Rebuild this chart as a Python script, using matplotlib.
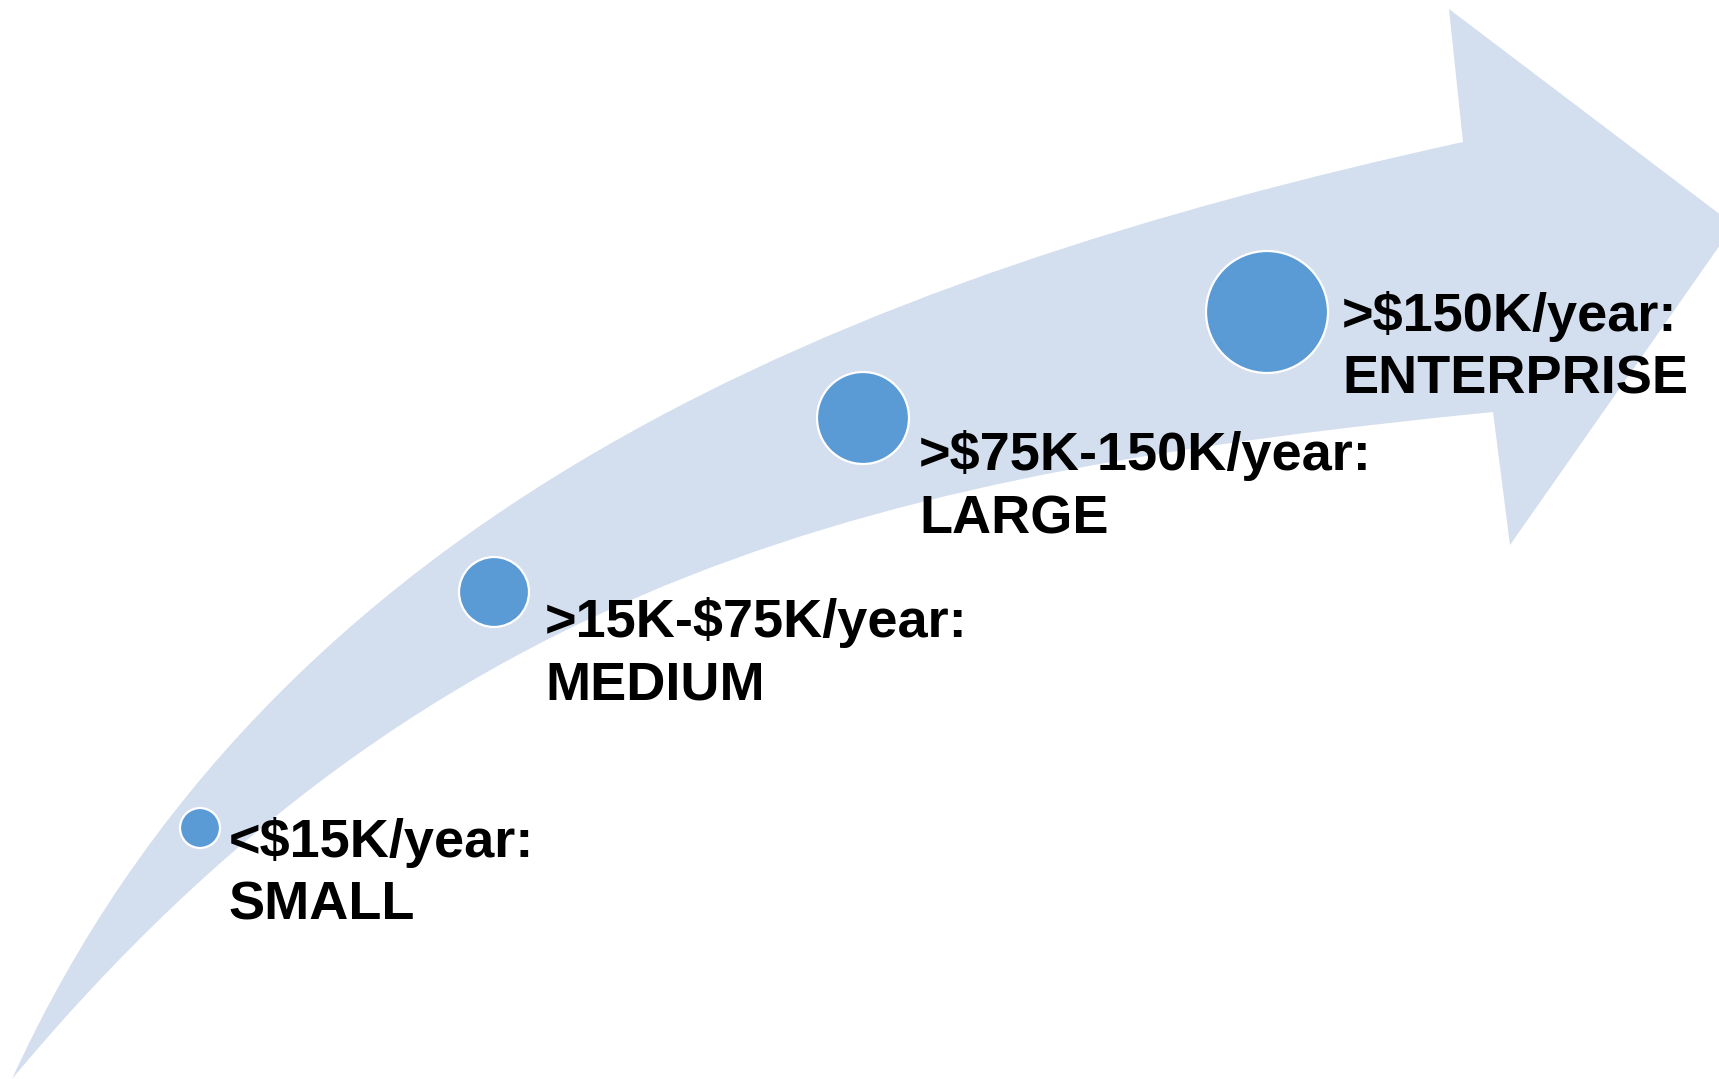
import matplotlib.pyplot as plt
from matplotlib.path import Path
from matplotlib.patches import PathPatch, Circle

# tiers along the arrow (pixel coordinates of the 1719x1079 canvas)
ranges = ['<$15K/year:', '>15K-$75K/year:', '>$75K-150K/year:', '>$150K/year:']
tiers = ['SMALL', 'MEDIUM', 'LARGE', 'ENTERPRISE']
circle_x = [200, 494, 863, 1267]
circle_y = [828, 592, 418, 312]
circle_r = [20, 35, 46, 61]
label_x = [229, 545, 919, 1342]
label_y = [857, 637, 470, 331]

W, H = 1719, 1079
fig = plt.figure(figsize=(W / 100, H / 100), dpi=100)
ax = fig.add_axes([0, 0, 1, 1])
ax.set_xlim(0, W)
ax.set_ylim(H, 0)
ax.axis('off')

# curved arrow: outer bezier, arrow head, inner bezier back to the tail
verts = [
    (12, 1079), (272, 510), (843, 278), (1463, 142),
    (1449, 9), (1734, 225), (1510, 545), (1493, 412),
    (893, 472), (437, 569), (12, 1079),
]
codes = [Path.MOVETO, Path.CURVE4, Path.CURVE4, Path.CURVE4,
         Path.LINETO, Path.LINETO, Path.LINETO, Path.LINETO,
         Path.CURVE4, Path.CURVE4, Path.CURVE4]
ax.add_patch(PathPatch(Path(verts, codes), facecolor='#D3DEEF', edgecolor='none'))

font = ['Liberation Sans', 'DejaVu Sans']
for i in range(len(tiers)):
    ax.add_patch(Circle((circle_x[i], circle_y[i]), circle_r[i],
                        facecolor='#5B9BD5', edgecolor='white', linewidth=1.6))
    ax.text(label_x[i], label_y[i], ranges[i], fontsize=39, fontweight='bold',
            family=font, va='baseline', ha='left', color='black')
    ax.text(label_x[i], label_y[i] + 63, tiers[i], fontsize=39, fontweight='bold',
            family=font, va='baseline', ha='left', color='black')

fig.savefig('out.png', dpi=100, facecolor='white')
